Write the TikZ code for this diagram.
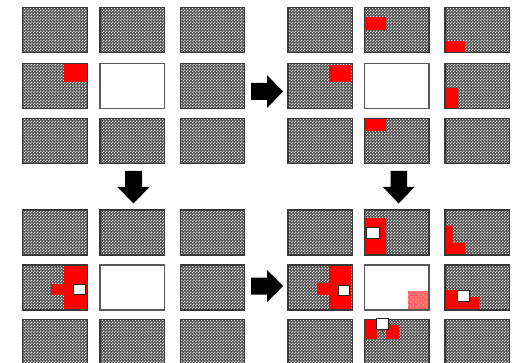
\documentclass[tikz,border=0pt]{standalone}
\usetikzlibrary{patterns}
\pgfdeclarepatternformonly{chk}{\pgfpointorigin}{\pgfqpoint{3pt}{3pt}}{\pgfqpoint{3pt}{3pt}}{%
  \pgfpathrectangle{\pgfpointorigin}{\pgfqpoint{1.5pt}{1.5pt}}%
  \pgfpathrectangle{\pgfqpoint{1.5pt}{1.5pt}}{\pgfqpoint{1.5pt}{1.5pt}}%
  \pgfusepath{fill}}
\pgfdeclarepatternformonly{pdots}{\pgfpointorigin}{\pgfqpoint{5pt}{5pt}}{\pgfqpoint{5pt}{5pt}}{%
  \pgfpathcircle{\pgfqpoint{1.2pt}{1.2pt}}{0.7pt}%
  \pgfpathcircle{\pgfqpoint{3.7pt}{3.7pt}}{0.7pt}%
  \pgfusepath{fill}}
\begin{document}
\begin{tikzpicture}[x=1pt,y=-1pt,
  cellg/.style={rectangle, inner sep=0pt, outer sep=0pt, minimum width=64.5pt, minimum height=45pt,
    preaction={fill=black!68}, pattern=chk, pattern color=black!20, draw=black!78, line width=1.3pt},
  cellw/.style={rectangle, inner sep=0pt, outer sep=0pt, minimum width=64.5pt, minimum height=45pt,
    fill=white, draw=black!65, line width=1.3pt},
  bord/.style={draw=black!78, line width=1.3pt},
  redp/.style={fill=red},
  wsq/.style={draw=black!85, line width=0.9pt, fill=white},
  barrow/.style={fill=black}]
\useasboundingbox (0,0) rectangle (516,363);
\clip (0,0) rectangle (516,363);

% ---------- top-left grid ----------
\node[cellg] (a11) at (54.95,30) {};
\node[cellg] (a12) at (132.25,30) {};
\node[cellg] (a13) at (212.55,30) {};
\node[cellg] (a21) at (54.95,86) {};
\node[cellw] (a22) at (132.25,86) {};
\node[cellg] (a23) at (212.55,86) {};
\node[cellg] (a31) at (54.95,141) {};
\node[cellg] (a32) at (132.25,141) {};
\node[cellg] (a33) at (212.55,141) {};
\fill[redp] (64.3,64.5) rectangle (86.7,82);

% ---------- top-right grid ----------
\node[cellg] (b11) at (320.25,30) {};
\node[cellg] (b12) at (396.75,30) {};
\node[cellg] (b13) at (477.25,30) {};
\node[cellg] (b21) at (320.25,86) {};
\node[cellw] (b22) at (396.75,86) {};
\node[cellg] (b23) at (477.25,86) {};
\node[cellg] (b31) at (320.25,141) {};
\node[cellg] (b32) at (396.75,141) {};
\node[cellg] (b33) at (477.25,141) {};
\fill[redp] (365,17.3) rectangle (386.3,30);
\fill[redp] (445,41.3) rectangle (465.3,53);
\fill[redp] (329.3,65) rectangle (350.5,82);
\fill[redp] (445,88.3) rectangle (458.3,108);
\fill[redp] (365,119.5) rectangle (386.3,131);

% ---------- bottom-left grid ----------
\node[cellg] (c11) at (54.95,232.5) {};
\node[cellg] (c12) at (132.25,232.5) {};
\node[cellg] (c13) at (212.55,232.5) {};
\node[cellg] (c21) at (54.95,287.5) {};
\node[cellw] (c22) at (132.25,287.5) {};
\node[cellg] (c23) at (212.55,287.5) {};
\node[cellg] (c31) at (54.95,342) {};
\node[cellg] (c32) at (132.25,342) {};
\node[cellg] (c33) at (212.55,342) {};
\fill[redp] (64.3,265.5) rectangle (86.7,310);
\fill[redp] (50.7,284.3) rectangle (64.6,295);

% ---------- bottom-right grid ----------
\node[cellg] (d11) at (320.25,232.5) {};
\node[cellg] (d12) at (396.75,232.5) {};
\node[cellg] (d13) at (477.25,232.5) {};
\node[cellg] (d21) at (320.25,287.5) {};
\node[cellw] (d22) at (396.75,287.5) {};
\node[cellg] (d23) at (477.25,287.5) {};
\node[cellg] (d31) at (320.25,342) {};
\node[cellg] (d32) at (396.75,342) {};
\node[cellg] (d33) at (477.25,342) {};
\fill[redp] (365,218.3) rectangle (386.3,255);
\fill[redp] (445,226) -- (452.7,226) -- (452.7,242.7) -- (465.3,242.7) -- (465.3,255) -- (445,255) -- cycle;
\fill[redp] (329.3,265.5) rectangle (350.5,310);
\fill[redp] (317,283.3) rectangle (329.6,295);
\fill[red!60] (407.7,291.3) rectangle (429,310);
\fill[pattern=pdots, pattern color=white!75!red] (407.7,291.3) rectangle (429,310);
\fill[redp] (445,290) rectangle (458,310);
\fill[redp] (458,297) rectangle (478.7,310);
\fill[redp] (365,320) rectangle (377,339.3);
\fill[redp] (386,325) rectangle (399.3,339.3);

% ---------- redraw borders over red ----------
\foreach \n in {a21,b12,b13,b21,b23,b32,c21,d12,d13,d21,d23,d32}
  \draw[bord] (\n.north west) rectangle (\n.south east);
\draw[draw=black!65, line width=1.3pt] (d22.north west) rectangle (d22.south east);

% ---------- small white squares ----------
\draw[wsq] (73.3,284.3) rectangle (85.3,294.3);
\draw[wsq] (366,227.7) rectangle (379.7,238.7);
\draw[wsq] (338.3,285.3) rectangle (349.7,295);
\draw[wsq] (457.3,290.7) rectangle (469.7,301.7);
\draw[black!70, line width=0.8pt] (382,329.3) -- (382,334);
\draw[wsq] (376,318.3) rectangle (388.3,329.3);

% ---------- block arrows ----------
\fill[barrow] (251,83) -- (267,83) -- (267,75) -- (283,91.5) -- (267,108) -- (267,100) -- (251,100) -- cycle;
\fill[barrow] (251,277.5) -- (267,277.5) -- (267,270) -- (283,286) -- (267,302) -- (267,294.5) -- (251,294.5) -- cycle;
\fill[barrow] (125,171) -- (142,171) -- (142,187) -- (149.5,187) -- (133.5,203.5) -- (117.5,187) -- (125,187) -- cycle;
\fill[barrow] (390.5,171) -- (407,171) -- (407,187) -- (414.5,187) -- (398.7,203.5) -- (383,187) -- (390.5,187) -- cycle;
\end{tikzpicture}
\end{document}
